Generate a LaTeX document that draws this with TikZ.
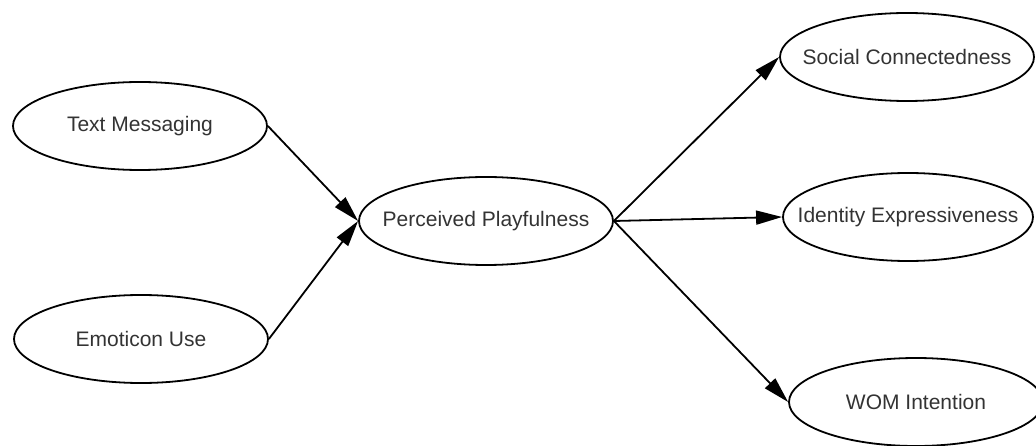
\documentclass[tikz,border=0pt]{standalone}
\usepackage{fontspec}
\setmainfont{Liberation Sans}
\usetikzlibrary{shapes.geometric,arrows.meta}
\newcommand\lbl[1]{\makebox[0pt]{#1}}
\begin{document}
\begin{tikzpicture}[x=1pt,y=-1pt,
  var/.style={ellipse,draw=black,line width=1.8pt,minimum width=254pt,minimum height=88pt,inner sep=0pt,
    text=black!80,font=\fontsize{21}{24}\selectfont},
  link/.style={line width=1.8pt,-{Triangle[length=26pt,width=14pt]}}]
\useasboundingbox (0,0) rectangle (1036,446);
\node[var] (tm) at (140,126) {\lbl{Text Messaging}};
\node[var] (eu) at (141,339) {\lbl{Emoticon Use}};
\node[var] (pp) at (486,221) {\lbl{Perceived Playfulness}};
\node[var] (sc) at (907,57) {\lbl{Social Connectedness}};
\node[var,minimum width=250pt] (ie) at (908,217) {\lbl{Identity Expressiveness}};
\node[var] (wi) at (916,402) {\lbl{WOM Intention}};
\draw[link] (tm.east) -- (pp.west);
\draw[link] (eu.east) -- (pp.west);
\draw[link] (pp.east) -- (sc.west);
\draw[link] (pp.east) -- (ie.west);
\draw[link] (pp.east) -- (wi.west);
\end{tikzpicture}
\end{document}
